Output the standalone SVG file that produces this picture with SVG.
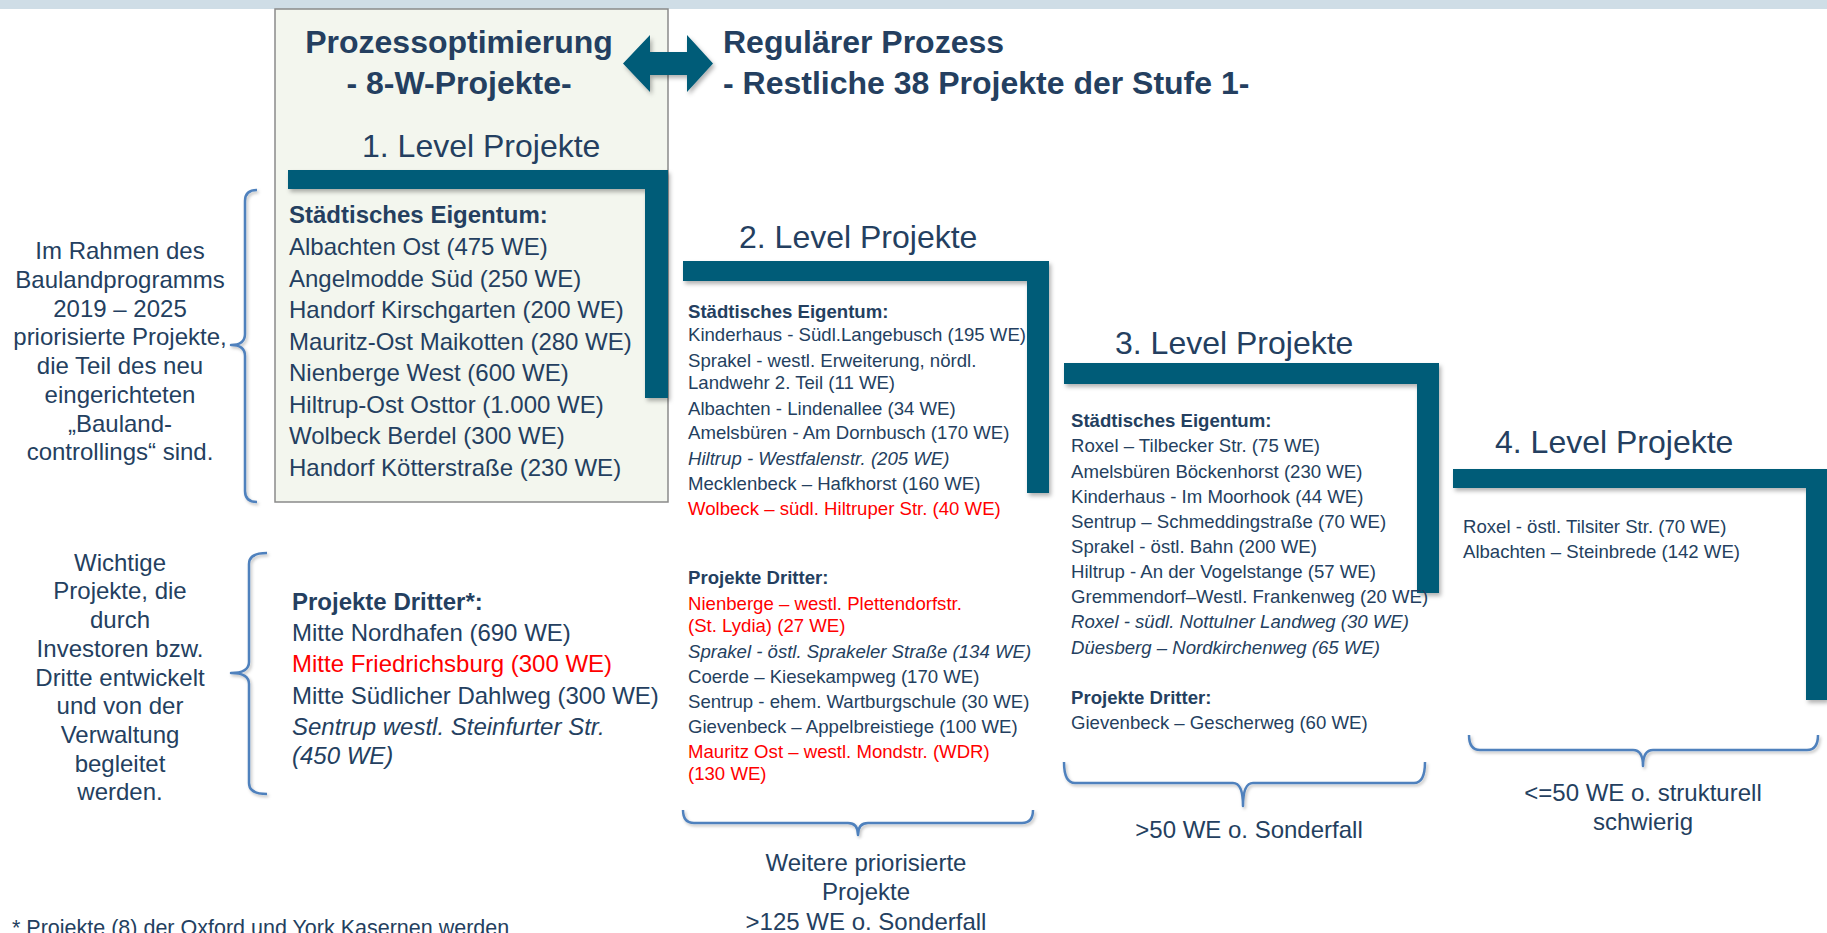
<svg xmlns="http://www.w3.org/2000/svg" width="1827" height="933" viewBox="0 0 1827 933">
<defs>
<style>
.t{font-family:"Liberation Sans",Arial,sans-serif;fill:#243f60}
.h{font-size:32px;font-weight:bold}
.lv{font-size:32px}
.m{font-size:24px}
.s{font-size:18.6px}
.b{font-weight:bold}
.i{font-style:italic}
.r{fill:#ff0000}
.c{text-anchor:middle}
.bar{fill:#015b78;filter:url(#sh)}
.brace{fill:none;stroke:#4f81bd;stroke-width:2.5;stroke-linejoin:round;filter:url(#sh2)}
</style>
<filter id="sh" x="-10%" y="-10%" width="130%" height="130%">
<feDropShadow dx="2" dy="3" stdDeviation="2" flood-color="#000" flood-opacity="0.3"/>
</filter>
<filter id="sh2" x="-10%" y="-10%" width="130%" height="130%">
<feDropShadow dx="1.5" dy="2" stdDeviation="1.5" flood-color="#000" flood-opacity="0.25"/>
</filter>
</defs>
<rect width="1827" height="933" fill="#ffffff"/>
<rect x="0" y="0" width="1827" height="9" fill="#cfdde6"/>

<g id="level1">
<rect x="275" y="9" width="393" height="493" fill="#f3f6ee" stroke="#8a8a8a" stroke-width="1.5"/>
<text class="t h c" x="459" y="53">Prozessoptimierung</text>
<text class="t h c" x="459" y="94">- 8-W-Projekte-</text>
<text class="t lv" x="362" y="157">1. Level Projekte</text>
<path class="bar" d="M288 170 H668 V398 H645 V189 H288 Z"/>
<text class="t m b" x="289" y="223">Städtisches Eigentum:</text>
<text class="t m" x="289" y="255">Albachten Ost (475 WE)</text>
<text class="t m" x="289" y="286.5">Angelmodde Süd (250 WE)</text>
<text class="t m" x="289" y="318">Handorf Kirschgarten (200 WE)</text>
<text class="t m" x="289" y="349.5">Mauritz-Ost Maikotten (280 WE)</text>
<text class="t m" x="289" y="381">Nienberge West (600 WE)</text>
<text class="t m" x="289" y="412.5">Hiltrup-Ost Osttor (1.000 WE)</text>
<text class="t m" x="289" y="444">Wolbeck Berdel (300 WE)</text>
<text class="t m" x="289" y="475.5">Handorf Kötterstraße (230 WE)</text>
</g>

<g id="regular">
<text class="t h" x="723" y="53">Regulärer Prozess</text>
<text class="t h" x="723" y="94">- Restliche 38 Projekte der Stufe 1-</text>
</g>

<g id="dritter1">
<text class="t m b" x="292" y="610">Projekte Dritter*:</text>
<text class="t m" x="292" y="641">Mitte Nordhafen (690 WE)</text>
<text class="t m r" x="292" y="672">Mitte Friedrichsburg (300 WE)</text>
<text class="t m" x="292" y="704">Mitte Südlicher Dahlweg (300 WE)</text>
<text class="t m i" x="292" y="735">Sentrup westl. Steinfurter Str.</text>
<text class="t m i" x="292" y="764">(450 WE)</text>
</g>

<g id="note1">
<text class="t m c" x="120" y="259">Im Rahmen des</text>
<text class="t m c" x="120" y="288">Baulandprogramms</text>
<text class="t m c" x="120" y="316.5">2019 – 2025</text>
<text class="t m c" x="120" y="345">priorisierte Projekte,</text>
<text class="t m c" x="120" y="374">die Teil des neu</text>
<text class="t m c" x="120" y="403">eingerichteten</text>
<text class="t m c" x="120" y="431.5">„Bauland-</text>
<text class="t m c" x="120" y="460">controllings“ sind.</text>
</g>

<g id="note2">
<text class="t m c" x="120" y="571">Wichtige</text>
<text class="t m c" x="120" y="599">Projekte, die</text>
<text class="t m c" x="120" y="628">durch</text>
<text class="t m c" x="120" y="657">Investoren bzw.</text>
<text class="t m c" x="120" y="685.5">Dritte entwickelt</text>
<text class="t m c" x="120" y="714">und von der</text>
<text class="t m c" x="120" y="743">Verwaltung</text>
<text class="t m c" x="120" y="771.5">begleitet</text>
<text class="t m c" x="120" y="800">werden.</text>
</g>

<g id="level2">
<text class="t lv" x="739" y="248">2. Level Projekte</text>
<path class="bar" d="M683 261 H1049 V493 H1027 V281 H683 Z"/>
<text class="t s b" x="688" y="318">Städtisches Eigentum:</text>
<text class="t s" x="688" y="341">Kinderhaus - Südl.Langebusch (195 WE)</text>
<text class="t s" x="688" y="367">Sprakel - westl. Erweiterung, nördl.</text>
<text class="t s" x="688" y="389">Landwehr 2. Teil (11 WE)</text>
<text class="t s" x="688" y="415">Albachten - Lindenallee (34 WE)</text>
<text class="t s" x="688" y="439">Amelsbüren - Am Dornbusch (170 WE)</text>
<text class="t s i" x="688" y="465">Hiltrup - Westfalenstr. (205 WE)</text>
<text class="t s" x="688" y="490">Mecklenbeck – Hafkhorst (160 WE)</text>
<text class="t s r" x="688" y="515">Wolbeck – südl. Hiltruper Str. (40 WE)</text>
<text class="t s b" x="688" y="584">Projekte Dritter:</text>
<text class="t s r" x="688" y="610">Nienberge – westl. Plettendorfstr.</text>
<text class="t s r" x="688" y="632">(St. Lydia) (27 WE)</text>
<text class="t s i" x="688" y="658">Sprakel - östl. Sprakeler Straße (134 WE)</text>
<text class="t s" x="688" y="683">Coerde – Kiesekampweg (170 WE)</text>
<text class="t s" x="688" y="708">Sentrup - ehem. Wartburgschule (30 WE)</text>
<text class="t s" x="688" y="733">Gievenbeck – Appelbreistiege (100 WE)</text>
<text class="t s r" x="688" y="758">Mauritz Ost – westl. Mondstr. (WDR)</text>
<text class="t s r" x="688" y="780">(130 WE)</text>
<text class="t m c" x="866" y="871">Weitere priorisierte</text>
<text class="t m c" x="866" y="900">Projekte</text>
<text class="t m c" x="866" y="930">&gt;125 WE o. Sonderfall</text>
</g>

<g id="level3">
<text class="t lv" x="1115" y="354">3. Level Projekte</text>
<path class="bar" d="M1064 363 H1439 V593 H1417 V384 H1064 Z"/>
<text class="t s b" x="1071" y="427">Städtisches Eigentum:</text>
<text class="t s" x="1071" y="452">Roxel – Tilbecker Str. (75 WE)</text>
<text class="t s" x="1071" y="478">Amelsbüren Böckenhorst (230 WE)</text>
<text class="t s" x="1071" y="503">Kinderhaus - Im Moorhook (44 WE)</text>
<text class="t s" x="1071" y="528">Sentrup – Schmeddingstraße (70 WE)</text>
<text class="t s" x="1071" y="553">Sprakel - östl. Bahn (200 WE)</text>
<text class="t s" x="1071" y="578">Hiltrup - An der Vogelstange (57 WE)</text>
<text class="t s" x="1071" y="603">Gremmendorf–Westl. Frankenweg (20 WE)</text>
<text class="t s i" x="1071" y="628">Roxel - südl. Nottulner Landweg (30 WE)</text>
<text class="t s i" x="1071" y="654">Düesberg – Nordkirchenweg (65 WE)</text>
<text class="t s b" x="1071" y="704">Projekte Dritter:</text>
<text class="t s" x="1071" y="729">Gievenbeck – Gescherweg (60 WE)</text>
<text class="t m c" x="1249" y="838">&gt;50 WE o. Sonderfall</text>
</g>

<g id="level4">
<text class="t lv" x="1495" y="453">4. Level Projekte</text>
<path class="bar" d="M1453 469 H1827 V700 H1806 V488 H1453 Z"/>
<text class="t s" x="1463" y="533">Roxel - östl. Tilsiter Str. (70 WE)</text>
<text class="t s" x="1463" y="558">Albachten – Steinbrede (142 WE)</text>
<text class="t m c" x="1643" y="801">&lt;=50 WE o. strukturell</text>
<text class="t m c" x="1643" y="830">schwierig</text>
</g>

<g id="footnote">
<text class="t" style="font-size:21.5px" x="12" y="935">* Projekte (8) der Oxford und York Kasernen werden</text>
</g>

<g id="connectors">
<polygon class="bar" points="623,63.5 650,35 650,52 687,52 687,35 713,63.5 687,92 687,75 650,75 650,92"/>
<path class="brace" d="M257 190 Q245 190 245 201 L245 334 Q245 345 231 345 Q245 345 245 356 L245 491 Q245 502 257 502"/>
<path class="brace" d="M267 553 Q249 553 249 564 L249 662 Q249 673 231 673 Q249 673 249 684 L249 783 Q249 794 267 794"/>
<path class="brace" d="M683 810 Q683 823 694 823 L848 823 Q858 823 858 835 Q858 823 868 823 L1022 823 Q1033 823 1033 810"/>
<path class="brace" d="M1064 762 Q1064 783 1075 783 L1233 783 Q1243 783 1243 806 Q1243 783 1253 783 L1414 783 Q1425 783 1425 762"/>
<path class="brace" d="M1469 735 Q1469 750 1480 750 L1633 750 Q1643 750 1643 766 Q1643 750 1653 750 L1807 750 Q1818 750 1818 735"/>
</g>
</svg>
